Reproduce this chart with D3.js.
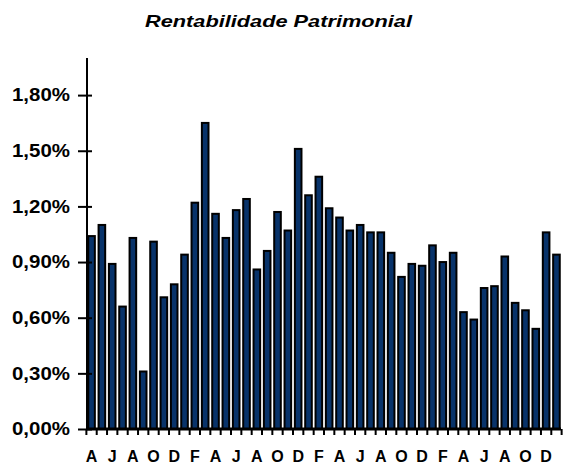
<!DOCTYPE html>
<html lang="pt">
<head>
    <meta charset="UTF-8">
    <title>Rentabilidade Patrimonial</title>
    <script src="https://cdnjs.cloudflare.com/ajax/libs/d3/7.8.5/d3.min.js"></script>
    <style>
        body {
            margin: 0;
            padding: 0;
            background: #ffffff;
            font-family: "Liberation Sans", Arial, sans-serif;
        }
        .title {
            font-size: 17px;
            font-weight: bold;
            font-style: italic;
        }
        .tick-label {
            font-size: 18px;
            font-weight: bold;
        }
        .month-label {
            font-size: 16px;
            font-weight: bold;
        }
    </style>
</head>
<body>
    <div id="chart"></div>

    <script>
        // valores mensais (%), abril a janeiro, 46 meses
        const months = ["A","M","J","J","A","S","O","N","D","J","F","M",
                        "A","M","J","J","A","S","O","N","D","J","F","M",
                        "A","M","J","J","A","S","O","N","D","J","F","M",
                        "A","M","J","J","A","S","O","N","D","J"];
        const values = [1.04, 1.10, 0.89, 0.66, 1.03, 0.31, 1.01, 0.71, 0.78, 0.94,
                        1.22, 1.65, 1.16, 1.03, 1.18, 1.24, 0.86, 0.96, 1.17, 1.07,
                        1.51, 1.26, 1.36, 1.19, 1.14, 1.07, 1.10, 1.06, 1.06, 0.95,
                        0.82, 0.89, 0.88, 0.99, 0.90, 0.95, 0.63, 0.59, 0.76, 0.77,
                        0.93, 0.68, 0.64, 0.54, 1.06, 0.94];
        const yTicks = [0, 0.3, 0.6, 0.9, 1.2, 1.5, 1.8];

        const width = 563, height = 467;
        const margin = {top: 58, right: 2, bottom: 38, left: 87};

        const svg = d3.select("#chart").append("svg")
            .attr("width", width)
            .attr("height", height);

        // o texto original é um pouco esticado na horizontal
        svg.append("text")
            .attr("class", "title")
            .attr("x", 145)
            .attr("y", 27)
            .attr("textLength", 267)
            .attr("lengthAdjust", "spacingAndGlyphs")
            .text("Rentabilidade Patrimonial");

        const idx = d3.range(values.length);

        const x = d3.scaleBand()
            .domain(idx)
            .range([margin.left, width - margin.right])
            .paddingInner(0.36)
            .paddingOuter(0.12);

        const y = d3.scaleLinear()
            .domain([0, 2.0])
            .range([height - margin.bottom, margin.top]);

        const fmt = v => d3.format(".2f")(v).replace(".", ",") + "%";

        // barras
        svg.append("g")
            .selectAll("rect")
            .data(values)
            .join("rect")
            .attr("x", (d, i) => x(i))
            .attr("y", d => y(d))
            .attr("width", x.bandwidth())
            .attr("height", d => y(0) - y(d))
            .attr("fill", "#08336a")
            .attr("stroke", "#000")
            .attr("stroke-width", 2);

        // eixo Y
        const yAxis = svg.append("g")
            .attr("transform", `translate(${margin.left},0)`)
            .call(d3.axisLeft(y).tickValues(yTicks).tickSize(4).tickFormat(fmt));
        yAxis.select(".domain").remove();
        yAxis.append("line")
            .attr("x1", 0).attr("x2", 0)
            .attr("y1", margin.top).attr("y2", y(0))
            .attr("stroke", "#000").attr("stroke-width", 2);
        yAxis.selectAll(".tick line")
            .attr("x1", -9).attr("x2", 5)
            .attr("stroke", "#000").attr("stroke-width", 2);
        yAxis.selectAll(".tick text")
            .attr("class", "tick-label")
            .attr("x", -75)
            .attr("text-anchor", "start")
            .attr("textLength", 58)
            .attr("lengthAdjust", "spacingAndGlyphs")
            .attr("fill", "#000");

        // eixo X
        const step = x.step();
        const x0 = x(0) - step * x.paddingInner() / 2;
        const xg = svg.append("g");
        xg.append("line")
            .attr("x1", margin.left).attr("x2", width - margin.right)
            .attr("y1", y(0)).attr("y2", y(0))
            .attr("stroke", "#000").attr("stroke-width", 3);
        xg.selectAll("line.tk")
            .data(d3.range(values.length + 1))
            .join("line")
            .attr("class", "tk")
            .attr("x1", i => x0 + i * step)
            .attr("x2", i => x0 + i * step)
            .attr("y1", y(0))
            .attr("y2", y(0) + 6)
            .attr("stroke", "#000")
            .attr("stroke-width", 2);
        xg.selectAll("text")
            .data(idx.filter(i => i % 2 === 0))
            .join("text")
            .attr("class", "month-label")
            .attr("x", i => x(i) + x.bandwidth() / 2)
            .attr("y", height - 5)
            .attr("text-anchor", "middle")
            .text(i => months[i]);
    </script>
</body>
</html>
